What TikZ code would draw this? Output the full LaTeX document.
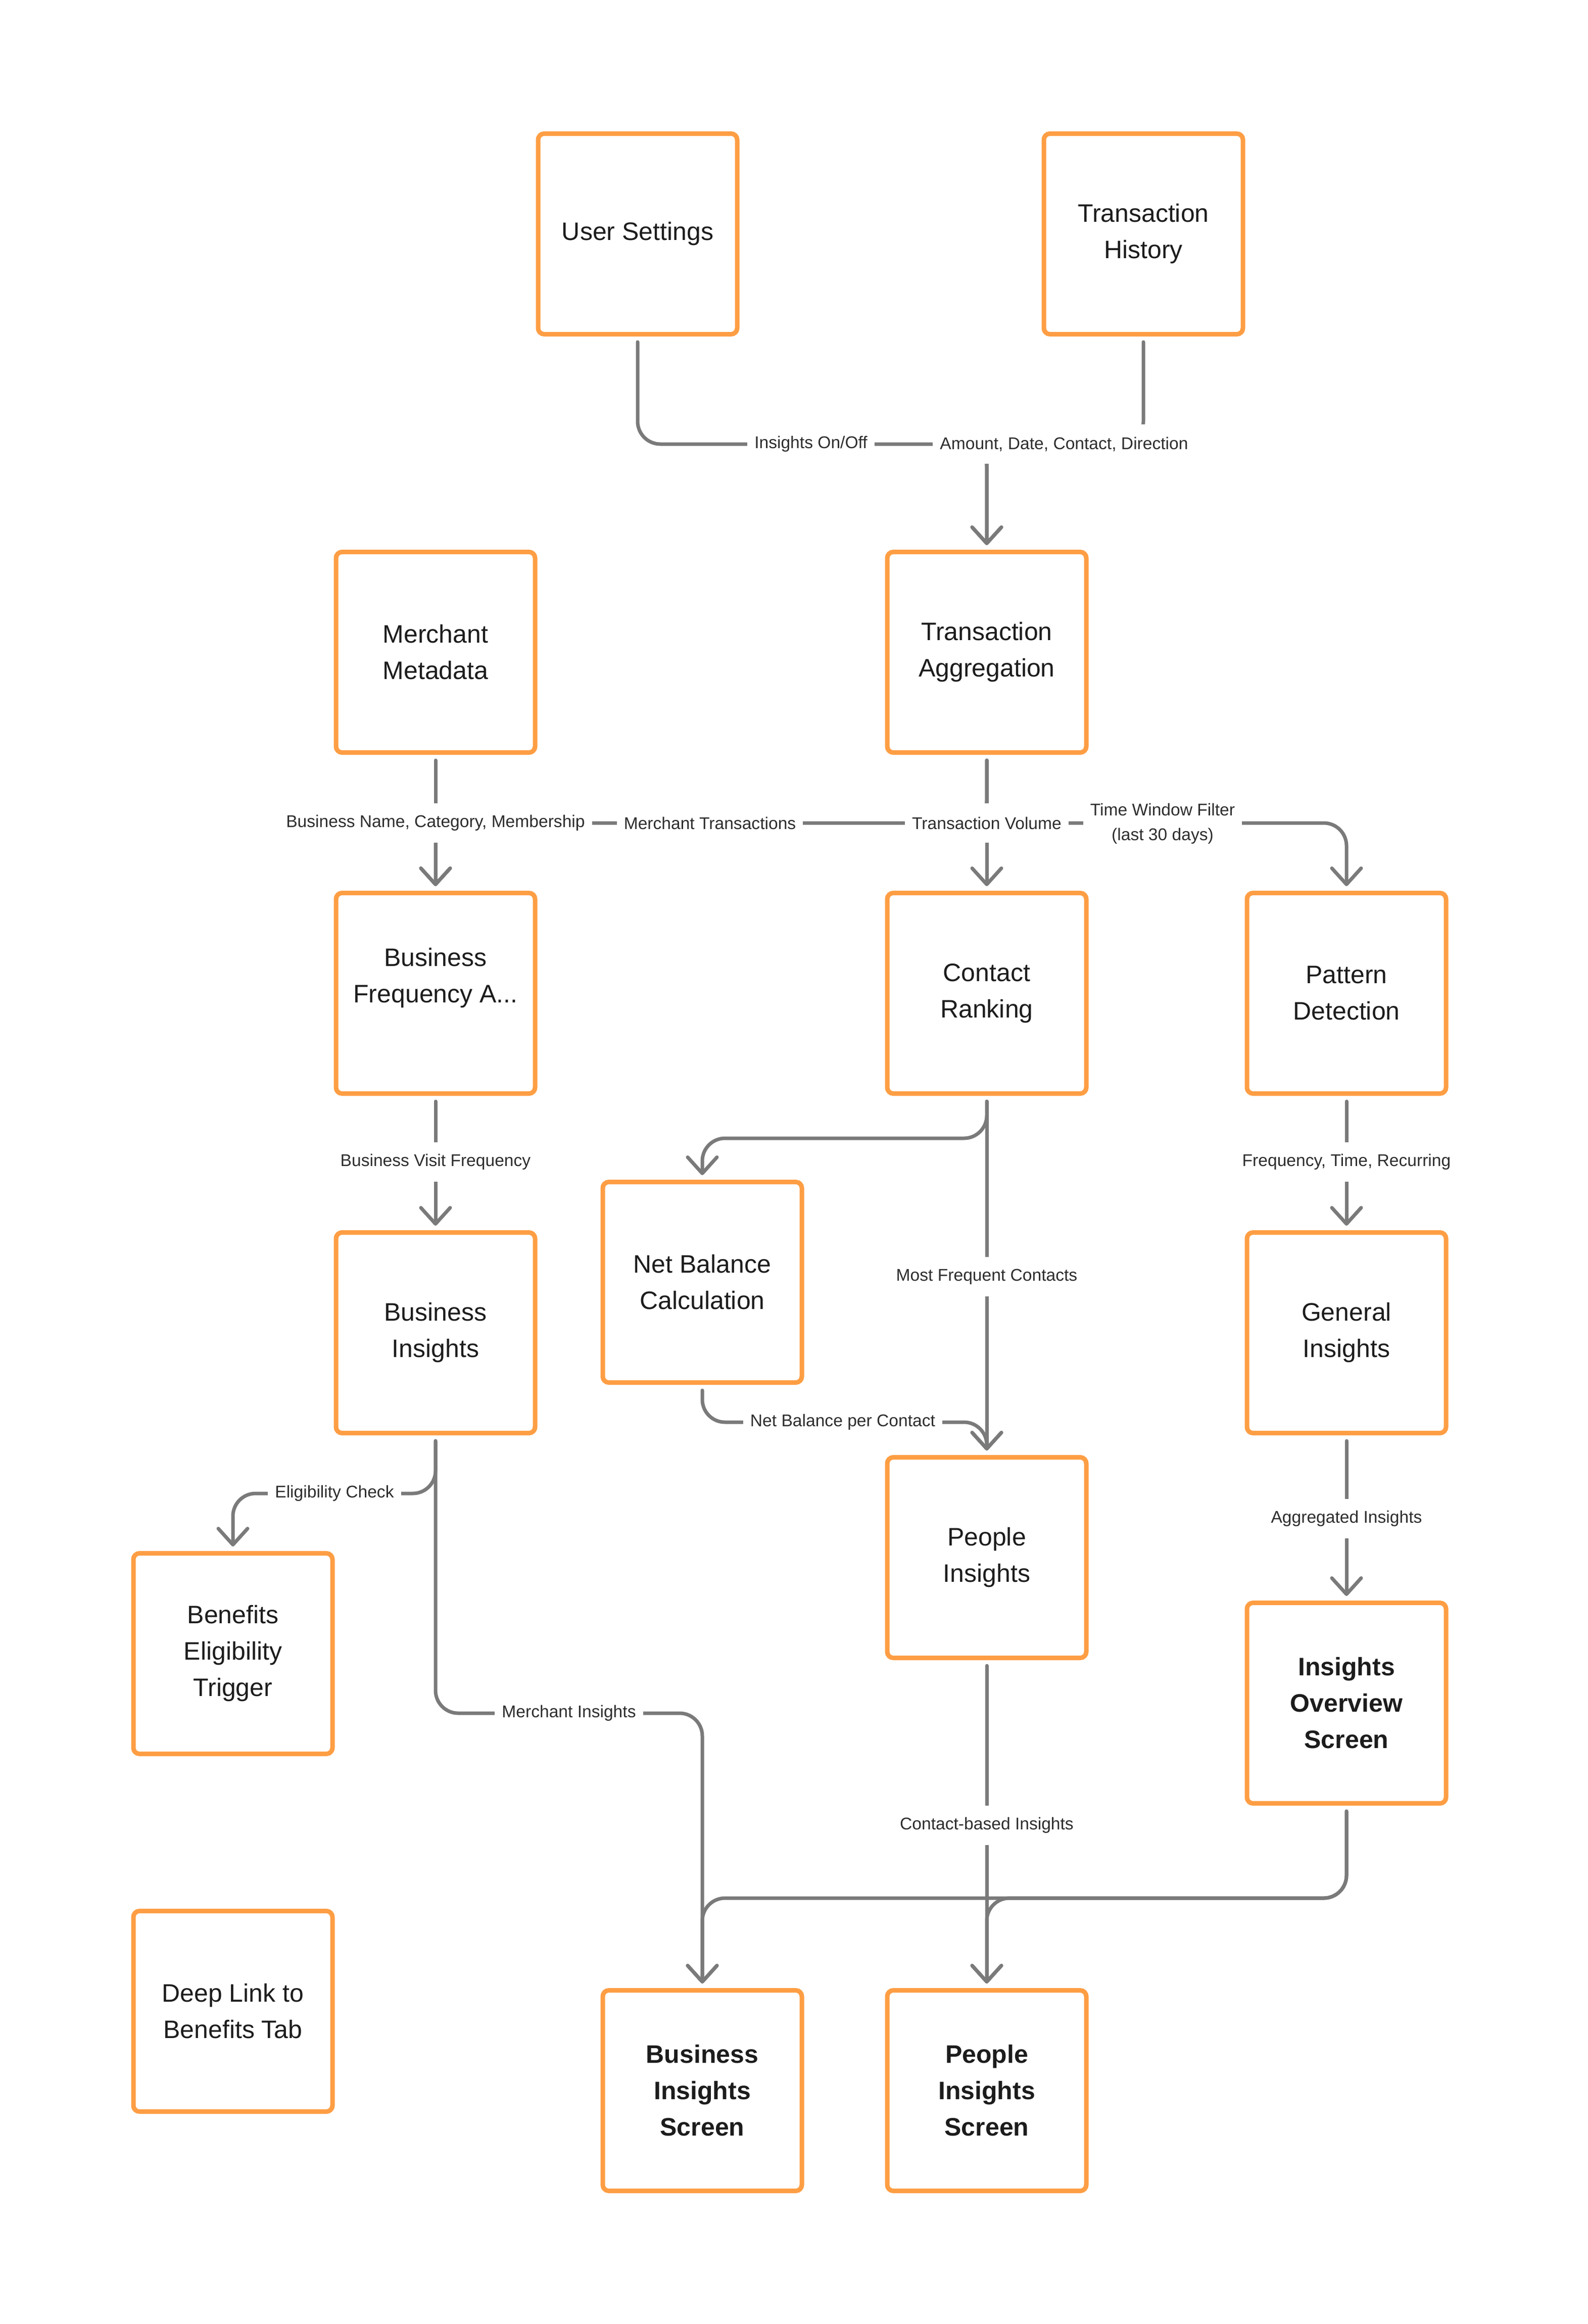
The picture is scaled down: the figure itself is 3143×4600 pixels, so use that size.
\documentclass[tikz,border=0pt]{standalone}
\usepackage{fontspec}
\setmainfont{Liberation Sans}
\usetikzlibrary{arrows.meta}
\definecolor{boxorange}{RGB}{254,158,68}
\definecolor{linegray}{RGB}{122,122,122}
\definecolor{txtdark}{RGB}{28,28,28}
\definecolor{txtlabel}{RGB}{45,45,45}
\begin{document}
\begin{tikzpicture}[x=0.2pt,y=-0.2pt,
  box/.style={draw=boxorange, line width=1.8pt, rounded corners=2.4pt, fill=white,
    minimum width=78.8pt, minimum height=79.4pt, align=center, text=txtdark,
    font=\fontsize{10pt}{14.4pt}\selectfont, inner sep=2pt},
  boldbox/.style={box, font=\fontsize{10pt}{14.4pt}\selectfont\bfseries},
  conn/.style={draw=linegray, line width=1.4pt, rounded corners=9pt, line cap=round,
    shorten <=2.2pt, shorten >=1.8pt,
    -{Straight Barb[length=6.4pt,width=11.6pt,round]}},
  lbl/.style={fill=white, text=txtlabel, font=\fontsize{6.72pt}{9.8pt}\selectfont,
    align=center, inner xsep=2.8pt, inner ysep=0pt, minimum height=15.6pt}
]
\fill[white] (0,0) rectangle (3143,4600);
\useasboundingbox (0,0) rectangle (3143,4600);

% boxes
\node[box] (us)  at (1262,463)  {User Settings};
\node[box] (th)  at (2263,463)  {Transaction\\History};
\node[box] (mm)  at (862,1291)  {Merchant\\Metadata};
\node[box] (ta)  at (1953,1291) {Transaction\\Aggregation};
\node[box] (bf)  at (862,1966)  {Business\\Frequency A...\\\mbox{}};
\node[box] (cr)  at (1953,1966) {Contact\\Ranking};
\node[box] (pd)  at (2665,1966) {Pattern\\Detection};
\node[box] (nb)  at (1390,2538) {Net Balance\\Calculation};
\node[box] (bi)  at (862,2638)  {Business\\Insights};
\node[box] (gi)  at (2665,2638) {General\\Insights};
\node[box] (pi)  at (1953,3083) {People\\Insights};
\node[box] (be)  at (461,3273)  {Benefits\\Eligibility\\Trigger};
\node[boldbox] (ios) at (2665,3371) {Insights\\Overview\\Screen};
\node[box] (dl)  at (461,3981)  {Deep Link to\\Benefits Tab};
\node[boldbox] (bis) at (1390,4138) {Business\\Insights\\Screen};
\node[boldbox] (pis) at (1953,4138) {People\\Insights\\Screen};

% lanes
\coordinate (y1) at (0,879);
\coordinate (y2) at (0,1629);
\coordinate (y3) at (0,2253);
\coordinate (y4) at (0,2815);
\coordinate (y5) at (0,2956);
\coordinate (y6) at (0,3391);
\coordinate (y7) at (0,3757);

% connectors
\draw[conn] (us.south) |- (y1 -| ta) -- (ta.north);
\draw[conn] (th.south) |- (y1 -| ta) -- (ta.north);
\draw[conn] (mm.south) -- (bf.north);
\draw[conn] (ta.south) |- (y2 -| bf) -- (bf.north);
\draw[conn] (ta.south) -- (cr.north);
\draw[conn] (ta.south) |- (y2 -| pd) -- (pd.north);
\draw[conn] (bf.south) -- (bi.north);
\draw[conn] (pd.south) -- (gi.north);
\draw[conn] (cr.south) |- (y3 -| nb) -- (nb.north);
\draw[conn] (cr.south) -- (pi.north);
\draw[conn] (nb.south) |- (y4 -| pi) -- (pi.north);
\draw[conn] (bi.south) |- (y5 -| be) -- (be.north);
\draw[conn] (bi.south) |- (y6 -| bis) -- (bis.north);
\draw[conn] (gi.south) -- (ios.north);
\draw[conn] (pi.south) -- (pis.north);
\draw[conn] (ios.south) |- (y7 -| bis) -- (bis.north);
\draw[conn] (ios.south) |- (y7 -| pis) -- (pis.north);

% labels
\node[lbl] (l1)  at (1605,879)  {Insights On/Off};
\node[lbl] (l2)  at (2106,879)  {Amount, Date, Contact, Direction};
\node[lbl] (l3)  at (862,1629)  {Business Name, Category, Membership};
\node[lbl] (l4)  at (1405,1629) {Merchant Transactions};
\node[lbl] (l5)  at (1953,1629) {Transaction Volume};
\node[lbl] (l6)  at (2301,1630) {Time Window Filter\\(last 30 days)};
\node[lbl] (l7)  at (862,2300)  {Business Visit Frequency};
\node[lbl] (l8)  at (2665,2300) {Frequency, Time, Recurring};
\node[lbl] (l9)  at (1953,2527) {Most Frequent Contacts};
\node[lbl] (l10) at (1668,2815) {Net Balance per Contact};
\node[lbl] (l11) at (662,2956)  {Eligibility Check};
\node[lbl] (l12) at (1126,3391) {Merchant Insights};
\node[lbl] (l13) at (2665,3006) {Aggregated Insights};
\node[lbl] (l14) at (1953,3613) {Contact-based Insights};
\end{tikzpicture}
\end{document}
